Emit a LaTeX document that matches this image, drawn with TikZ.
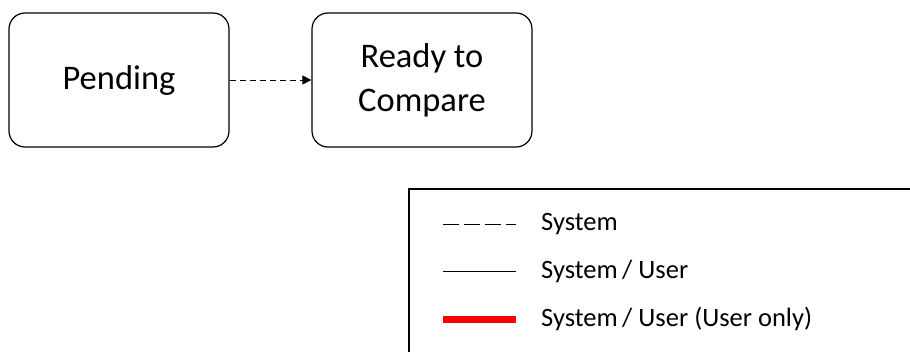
\documentclass[tikz,border=0pt]{standalone}
\usepackage{fontspec}
\setmainfont{Carlito}
\usetikzlibrary{arrows.meta,positioning}

\tikzset{
  state/.style={draw,rounded corners=16pt,line width=1.2pt,minimum width=220pt,minimum height=134pt,
    align=center,font=\fontsize{34.5}{44}\selectfont},
  legtext/.style={anchor=west,inner sep=0pt,font=\fontsize{26.5}{30}\selectfont}
}

\begin{document}
\begin{tikzpicture}[x=1pt,y=-1pt]
\useasboundingbox (0,0) rectangle (910,351);
\clip (0,0) rectangle (910,351);
\node[state] (pend) at (119,80) {Pending};
\node[state] (ready) at (422,80) {Ready to\\Compare};
\draw[dashed,dash pattern=on 6pt off 4pt,line width=1pt,-{Triangle[length=9pt,width=9pt]}] (pend) -- (ready);
% legend
\draw[line width=1.6pt] (409,189) rectangle (930,370);
\coordinate (s1) at (443,224); \coordinate (e1) at (516,224);
\coordinate (s2) at (443,271); \coordinate (e2) at (516,271);
\coordinate (s3) at (443,319); \coordinate (e3) at (516,319);
\draw[line width=1pt,dash pattern=on 16pt off 5pt] (s1) -- (e1);
\draw[line width=1pt] (s2) -- (e2);
\draw[red,line width=7pt] (s3) -- (e3);
\node[legtext] (l1) at (541,224) {System};
\node[legtext] (l2) at (541,271) {System\,/ User};
\node[legtext] (l3) at (541,319) {System\,/ User (User only)};
\end{tikzpicture}
\end{document}
